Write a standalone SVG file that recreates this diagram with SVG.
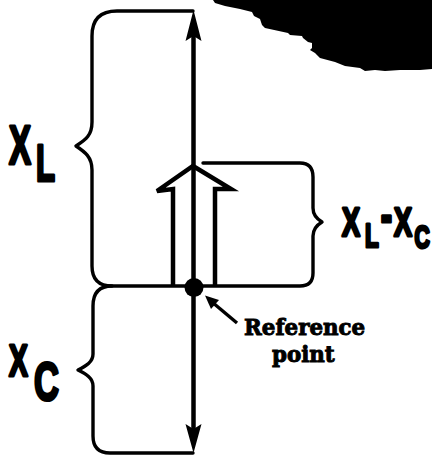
<svg xmlns="http://www.w3.org/2000/svg" width="432" height="455" viewBox="0 0 432 455">
<style>
.br{fill:none;stroke:#000;stroke-width:3.4;stroke-linejoin:round;stroke-linecap:round}
.ax{fill:none;stroke:#000;stroke-width:4.5}
.lab{font-family:"Liberation Sans",Arial,sans-serif;font-weight:bold;fill:#000;stroke:#000;stroke-width:3.2;stroke-linejoin:round}
.ref{font-family:"DejaVu Serif","Liberation Serif",serif;font-weight:bold;fill:#000;stroke:#000;stroke-width:1}
</style>
<rect width="432" height="455" fill="#fff"/>
<path id="blob" d="M213,0 L215,3 L225,6 L240,9 L252,12 L254,16 L260,19 L262,25 L265,28 L288,33 L290,35 L302,36 L303,38 L308,42 L312,43 L312,48 L310,50 L315,53 L320,58 L335,62 L345,66 L360,68 L365,71 L375,70 L385,71 L400,70 L420,70 L432,69 L432,0 Z" fill="#000"/>
<g id="connectors">
<line class="ax" x1="193.5" y1="440" x2="193.5" y2="24"/>
<path d="M193.5,10 L185.5,41 L193.5,36 L201.5,41 Z" fill="#000"/>
<path d="M193.5,453 L185.5,424 L193.5,429 L201.5,424 Z" fill="#000"/>
<line x1="237" y1="323" x2="212" y2="302" stroke="#000" stroke-width="3.4"/>
<path d="M205,295.5 L219,300 L211,309 Z" fill="#000"/>
</g>
<g id="brace-xl">
<path class="br" d="M193,11 L117,11 Q92,11 92,36 L92,122 C92,136 85,140 76,146 C85,152 92,157 92,170 L92,266 Q92,286 112,286 L300,286 Q313,286 313,273 L313,236 C313,229 317,225 322,222 C317,219 313,215 313,208 L313,177 Q313,163 300,163 L203,163"/>
</g>
<g id="brace-xc">
<path class="br" d="M112,286 Q93,286 93,306 L93,354 C93,362 86,366 78,370 C86,374 93,378 93,386 L93,436 Q93,453 110,453 L193,453"/>
</g>
<g id="vector">
<polyline points="173,286 173,189 157,191 193,166 231,189 215,189 215,286" fill="none" stroke="#000" stroke-width="4.5" stroke-linejoin="miter"/>
</g>
<g id="reference-point">
<circle cx="194" cy="287.5" r="9.5" fill="#000"/>
<text class="ref" transform="scale(0.93,1)" font-size="23"><tspan x="262.4" y="335">Reference</tspan><tspan x="292.5" y="362.5">point</tspan></text>
</g>
<g id="label-xl">
<text class="lab" transform="scale(0.6,1)" font-size="55"><tspan x="15" y="164">X</tspan><tspan x="60" y="181" font-size="52">L</tspan></text>
</g>
<g id="label-xc">
<text class="lab" transform="scale(0.64,1)" font-size="44"><tspan x="14" y="376">X</tspan><tspan x="53" y="400" font-size="54">C</tspan></text>
</g>
<g id="label-diff">
<text class="lab" transform="scale(0.66,1)" font-size="41"><tspan x="518" y="236">X</tspan><tspan x="553" y="247" font-size="34">L</tspan><tspan x="577" y="232" font-size="52">-</tspan><tspan x="597" y="236">X</tspan><tspan x="628" y="248" font-size="32">C</tspan></text>
</g>
</svg>
